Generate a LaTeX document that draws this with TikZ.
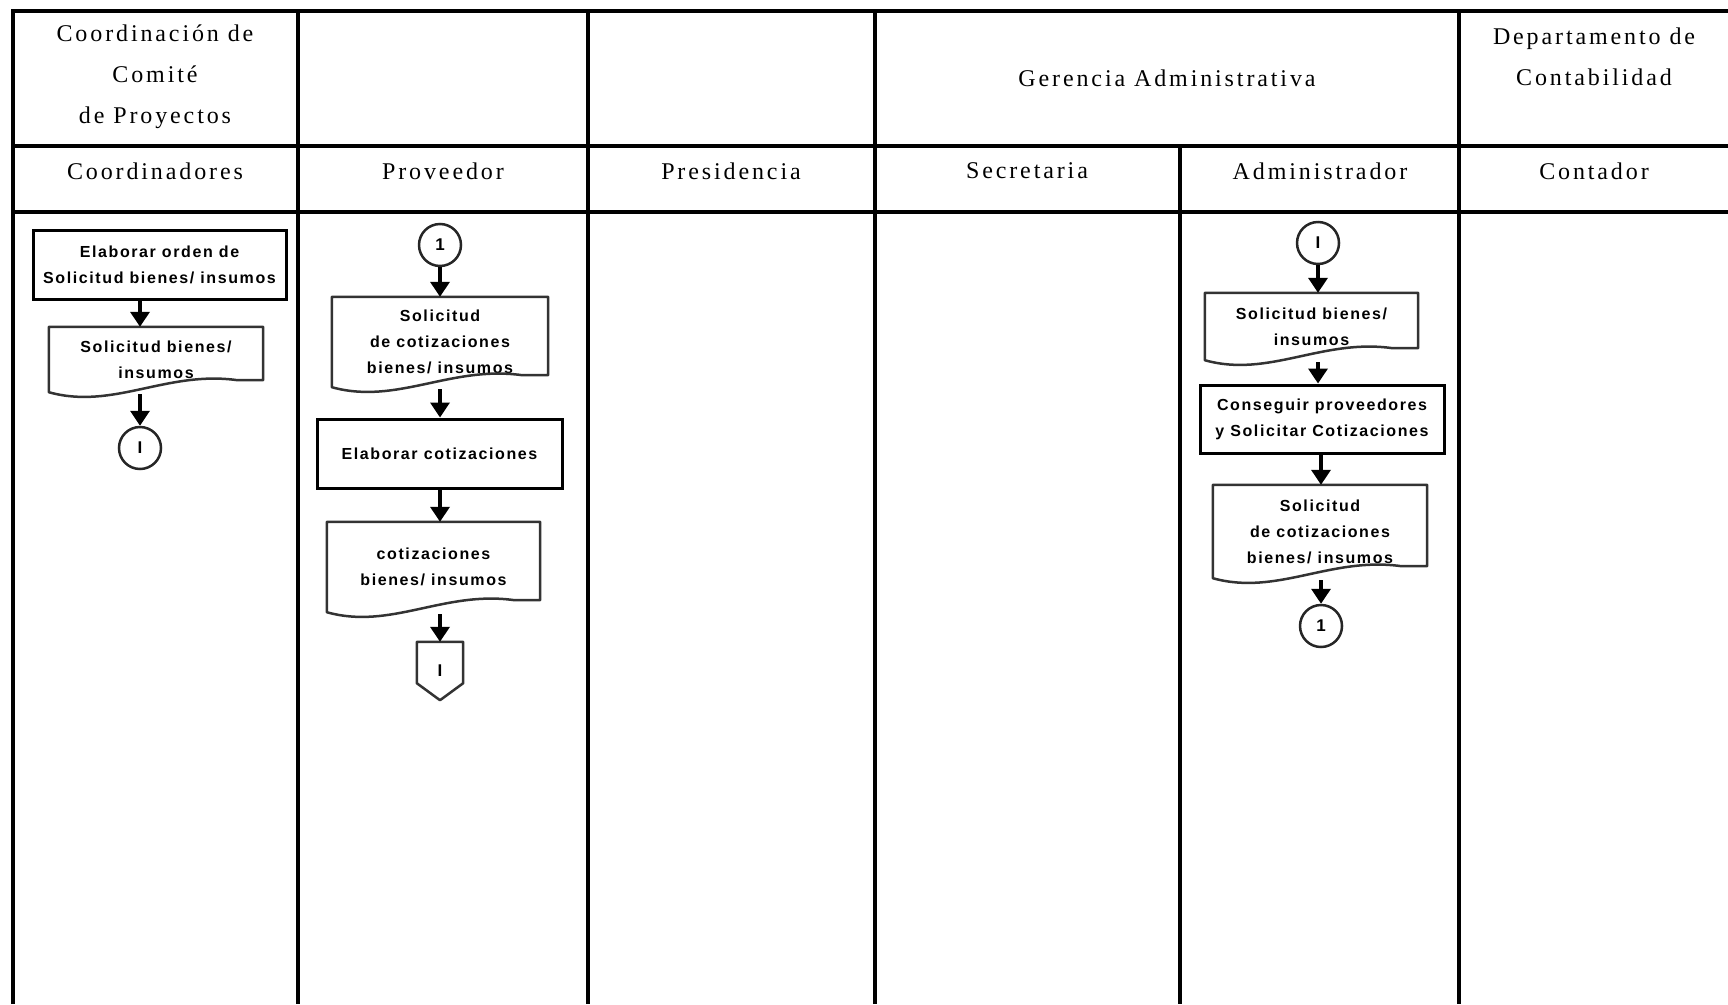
\documentclass[tikz,border=0pt]{standalone}
\usepackage{fontspec}
\setmainfont{Liberation Serif}
\newfontfamily\hdrfont[LetterSpace=12]{Liberation Serif}
\newfontfamily\boxfont[LetterSpace=10]{Liberation Sans}
\usetikzlibrary{arrows.meta,calc}

\tikzset{
  lane/.style={line width=4pt},
  hdr/.style={font=\hdrfont\fontsize{24}{41}\selectfont, align=center, inner sep=0pt},
  proc/.style={rectangle, draw=black, line width=3pt, align=center, inner sep=0pt,
    font=\boxfont\bfseries\fontsize{16}{26}\selectfont},
  docbox/.style={rectangle, align=center, inner sep=0pt,
    font=\boxfont\bfseries\fontsize{16}{26}\selectfont},
  docline/.style={draw=black!80, line width=2.5pt, line join=round},
  conn/.style={circle, draw=black!85, line width=2.5pt, minimum size=42pt, inner sep=0pt,
    font=\boxfont\bfseries\fontsize{17}{17}\selectfont},
  flow/.style={line width=3.5pt, -{Triangle[length=15pt,width=19pt]}}
}

% document symbol: straight top and sides, wavy bottom edge, right side 12pt shorter
\newcommand{\docoutline}[1]{%
  \draw[docline] (#1.south west) -- (#1.north west) -- (#1.north east)
    -- ([yshift=12pt]#1.south east)
    -- ($(#1.south west)!0.88!(#1.south east)+(0,12pt)$)
    .. controls ($(#1.south west)!0.55!(#1.south east)+(0,22pt)$)
    and ($(#1.south west)!0.3!(#1.south east)+(0,-18pt)$) .. cycle;}

\begin{document}
\begin{tikzpicture}[x=1pt,y=-1pt]
\useasboundingbox (0,0) rectangle (1728,1004);
\fill[white] (0,0) rectangle (1728,1004);

% swimlane grid
\draw[lane] (12.5,1004) -- (12.5,10.5) -- (1728,10.5);
\draw[lane] (12.5,146) -- (1728,146);
\draw[lane] (12.5,212) -- (1728,212);
\foreach \lx in {298,588,875,1459} \draw[lane] (\lx,10.5) -- (\lx,1004);
\draw[lane] (1180,146) -- (1180,1004);

% headings
\node[hdr] (g1) at (155,77) {Coordinación de\\Comité\\de Proyectos};
\node[hdr] (g2) at (1167,78) {Gerencia Administrativa};
\node[hdr] (g3) at (1594,56.5) {Departamento de\\Contabilidad};
\node[hdr] (r1) at (155,171) {Coordinadores};
\node[hdr] (r2) at (443,171) {Proveedor};
\node[hdr] (r3) at (731,171) {Presidencia};
\node[hdr] (r4) at (1027,171) {Secretaria};
\node[hdr] (r5) at (1320,171) {Administrador};
\node[hdr] (r6) at (1594,171) {Contador};

% Coordinadores lane
\node[proc, minimum width=253pt, minimum height=69pt] (b1) at (159.5,264.5)
  {Elaborar orden de\\Solicitud bienes/ insumos};
\node[docbox, minimum width=214pt, minimum height=65pt] (d1) at (156,359.5)
  {Solicitud bienes/\\insumos};
\docoutline{d1}
\node[conn] (c1) at (140,448) {I};

\draw[flow] (b1.south -| c1) -- (d1.north -| c1);
\draw[flow] ([yshift=-2pt]d1.south -| c1) -- (c1.north);

% Proveedor lane
\node[conn] (c2) at (440,245) {1};
\node[docbox, minimum width=216pt, minimum height=90pt] (dA) at (440,342)
  {Solicitud\\de cotizaciones\\bienes/ insumos};
\docoutline{dA}
\node[proc, minimum width=245pt, minimum height=69pt] (b2) at (439.5,453.5)
  {Elaborar cotizaciones};
\node[docbox, minimum width=213pt, minimum height=90pt] (dB) at (433.5,567)
  {cotizaciones\\bienes/ insumos};
\docoutline{dB}
\node[inner sep=0pt, minimum width=46pt, minimum height=58pt,
  font=\boxfont\bfseries\fontsize{17}{17}\selectfont] (op) at (440,671) {I};
\draw[docline] (op.north west) -- (op.north east) -- ([yshift=17pt]op.south east)
  -- (op.south) -- ([yshift=17pt]op.south west) -- cycle;

\draw[flow] (c2.south) -- (dA.north -| c2);
\draw[flow] ([yshift=-2pt]dA.south -| c2) -- (b2.north -| c2);
\draw[flow] (b2.south -| c2) -- (dB.north -| c2);
\draw[flow] ([yshift=-2pt]dB.south -| op) -- (op.north);

% Administrador lane
\node[conn] (c3) at (1318,243) {I};
\node[docbox, minimum width=213pt, minimum height=67pt] (dC) at (1311.5,326.5)
  {Solicitud bienes/\\insumos};
\docoutline{dC}
\node[proc, minimum width=244pt, minimum height=68pt] (b3) at (1322,419)
  {Conseguir proveedores\\y Solicitar Cotizaciones};
\node[docbox, minimum width=214pt, minimum height=93pt] (dD) at (1320,531.5)
  {Solicitud\\de cotizaciones\\bienes/ insumos};
\docoutline{dD}
\node[conn] (c4) at (1321,626) {1};

\draw[flow] (c3.south) -- (dC.north -| c3);
\draw[flow] ([yshift=-2pt]dC.south -| c3) -- (b3.north -| c3);
\draw[flow] (b3.south -| c4) -- (dD.north -| c4);
\draw[flow] ([yshift=-2pt]dD.south -| c4) -- (c4.north);
\end{tikzpicture}
\end{document}
